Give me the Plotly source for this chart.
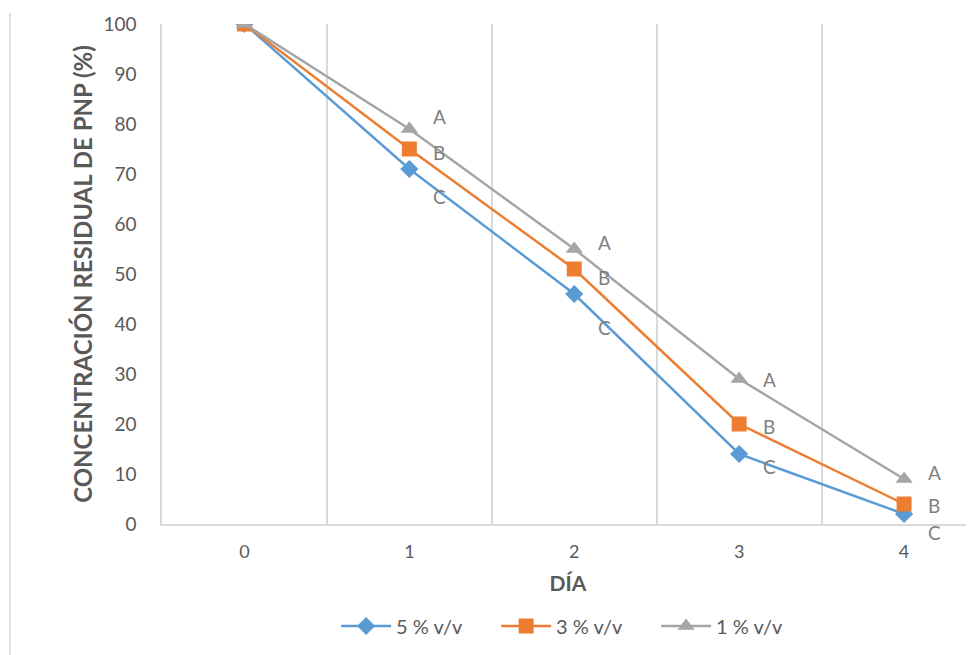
import plotly.graph_objects as go

days = [0, 1, 2, 3, 4]
series_names = ["5 % v/v", "3 % v/v", "1 % v/v"]
conc_5 = [100, 71, 46, 14, 2]
conc_3 = [100, 75, 51, 20, 4]
conc_1 = [100, 79, 55, 29, 9]
letters_5 = ["", "C", "C", "C", "C"]
letters_3 = ["", "B", "B", "B", "B"]
letters_1 = ["", "A", "A", "A", "A"]

# label pixel offsets (style only)
yshift_5 = [0, -27, -33, -12, -18]
yshift_3 = [0, -3, -8, -2, -1]
yshift_1 = [0, 13, 7, 0, 7]

colors = ["#5B9BD5", "#ED7D31", "#A5A5A5"]
symbols = ["diamond", "square", "triangle-up"]
msizes = [14, 15, 15]
FONT = "Lato"

fig = go.Figure()
all_vals = [conc_5, conc_3, conc_1]
all_letters = [letters_5, letters_3, letters_1]
all_shifts = [yshift_5, yshift_3, yshift_1]

for name, vals, c, s, ms in zip(series_names, all_vals, colors, symbols, msizes):
    fig.add_trace(go.Scatter(
        x=days, y=vals, name=name, mode="lines+markers",
        line=dict(color=c, width=2.5),
        marker=dict(color=c, symbol=s, size=ms, line=dict(width=0)),
    ))

annotations = []
for vals, lets, shifts in zip(all_vals, all_letters, all_shifts):
    for d, v, l, sh in zip(days, vals, lets, shifts):
        if l:
            annotations.append(dict(
                x=d, y=v, text=l, showarrow=False, xref="x", yref="y",
                xshift=30, yshift=sh,
                font=dict(family=FONT, size=19, color="#7F7F7F"),
            ))

# the page body adds an 8px offset, so the figure is 8px smaller on each side
fig.update_layout(
    width=966, height=647,
    margin=dict(l=154, r=0, t=16, b=131, autoexpand=False),
    paper_bgcolor="white", plot_bgcolor="white",
    font=dict(family=FONT, size=19, color="#595959"),
    showlegend=True,
    legend=dict(orientation="h", x=0.51, xanchor="center", y=-0.204, yanchor="middle",
                font=dict(family=FONT, size=20, color="#595959"),
                itemwidth=50, entrywidth=95, traceorder="normal"),
    annotations=annotations,
    shapes=[dict(type="line", xref="paper", yref="paper",
                 xsizemode="pixel", ysizemode="pixel", xanchor=0, yanchor=0,
                 x0=-152, x1=-152, y0=-131, y1=511,
                 line=dict(color="#D9D9D9", width=1.5))],
)

fig.update_xaxes(
    automargin=False,
    range=[-0.5, 4.424], tickmode="array", tickvals=days, ticktext=[str(d) for d in days],
    showgrid=False, zeroline=False, showline=True, linecolor="#D9D9D9", linewidth=1.5,
    ticks="", ticklabelstandoff=11,
    tickfont=dict(family=FONT, size=18, color="#595959"),
    minor=dict(tickmode="array", tickvals=[0.5, 1.5, 2.5, 3.5], showgrid=True,
               gridcolor="#D9D9D9", gridwidth=1.5),
    title=dict(text="<b>DÍA</b>", standoff=15, font=dict(family=FONT, size=21, color="#595959")),
)
fig.update_yaxes(
    automargin=False,
    range=[0, 100], tickmode="linear", tick0=0, dtick=10,
    showgrid=False, zeroline=False, showline=True, linecolor="#D9D9D9", linewidth=1.5,
    ticks="", ticklabelstandoff=20,
    tickfont=dict(family=FONT, size=19, color="#595959"),
    title=dict(text="<b>CONCENTRACIÓN RESIDUAL DE PNP (%)</b>", standoff=4,
               font=dict(family=FONT, size=24, color="#595959")),
)

fig.write_html("out.html")
